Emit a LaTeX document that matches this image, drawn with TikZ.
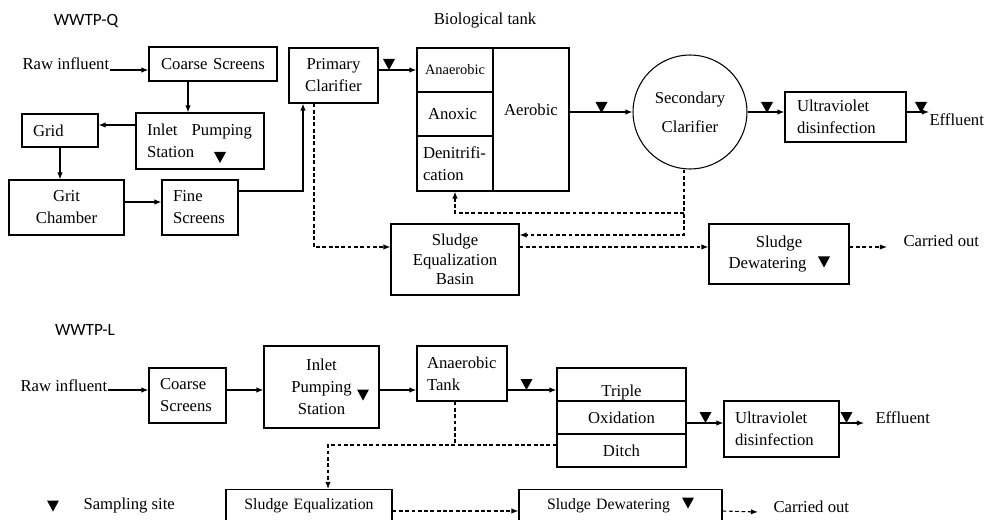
\documentclass[tikz,border=0pt]{standalone}
\usepackage{fontspec}
\setmainfont{Liberation Serif}
\newfontfamily\wwtpfont{Carlito}
\usepackage{tikz}
\usetikzlibrary{arrows.meta}

\newlength\px
\setlength\px{0.02cm}

\begin{document}
\begin{tikzpicture}[x=0.02cm, y=-0.02cm, line width=0.6pt,
    every node/.style={font=\fontsize{9.5}{12.5}\selectfont},
    box/.style={draw, inner ysep=0pt},
    plant/.style={font=\wwtpfont\fontsize{9.8}{12}\selectfont},
    arr/.style={-{Latex[length=4pt,width=3pt]}},
    dashline/.style={dash pattern=on 2.2pt off 1.4pt},
    dasharr/.style={dashline, arr},
    samp/.pic={\fill (-6,-5.5) -- (6,-5.5) -- (0,5.5) -- cycle;}]

    \useasboundingbox (0,0) rectangle (984,520);
    \clip (0,0) rectangle (984,520);

    % --- UPPER: WWTP-Q ---
    \node[plant] (lblq) at (86,21) {WWTP-Q};
    \node (lblbio) at (485,21) {Biological tank};

    \coordinate (rowq) at (0,70);
    \coordinate (rgrid) at (0,125);
    \coordinate (rgrit) at (0,202);
    \coordinate (rfs) at (0,191);
    \coordinate (ccs) at (188,0);
    \coordinate (cpc) at (303,0);

    \node[anchor=base west, inner sep=0pt] (rawq) at (22,70) {Raw influent};
    \node[box, inner xsep=6\px, text width=116\px, align=center, minimum height=34\px] (cs1) at (213,64) {Coarse Screens};
    \node[box, inner xsep=11\px, text width=106\px, align=left, minimum height=56\px] (ips1) at (200,141) {Inlet\hspace{8pt}Pumping\\Station};
    \node[box, inner xsep=11\px, text width=54\px, align=left, minimum height=33\px] (grid) at (60,130.5) {Grid};
    \node[box, inner xsep=6\px, text width=103\px, align=center, minimum height=55\px] (grit) at (66.5,207.5) {Grit\\Chamber};
    \node[box, inner xsep=11\px, text width=54\px, align=left, minimum height=55\px] (fs1) at (200,207.5) {Fine\\Screens};
    \node[box, inner xsep=6\px, text width=77\px, align=center, minimum height=55\px] (pc) at (333.5,75.5) {Primary\\Clarifier};

    % biological tank cells
    \node[box, inner xsep=3\px, text width=70\px, align=center, minimum height=44\px, font=\fontsize{8.2}{10}\selectfont] (anae) at (455,70) {Anaerobic};
    \node[box, inner xsep=11\px, text width=54\px, align=left, minimum height=44\px] (anox) at (455,114) {Anoxic};
    \node[box, inner xsep=6\px, text width=64\px, align=left, minimum height=55\px] (denit) at (455,163.5) {Denitrifi-\\cation};
    \node[box, inner sep=0pt, minimum width=76\px, minimum height=143\px, label={[yshift=9.5\px]center:Aerobic}] (aer) at (531,119.5) {};

    \node[draw, circle, minimum size=114\px, inner sep=0pt, align=center] (sc) at (690,112) {Secondary\\[4pt]Clarifier};
    \node[box, inner xsep=12\px, text width=97\px, align=left, minimum height=50\px] (uv1) at (845.5,117) {Ultraviolet\\disinfection};
    \node[anchor=base west, inner sep=0pt] (eff1) at (929,126) {Effluent};

    \node[box, inner xsep=6\px, text width=116\px, align=center, minimum height=71\px, font=\fontsize{9.5}{11}\selectfont] (se1) at (455,259.5) {Sludge\\Equalization\\Basin};
    \node[box, inner xsep=6\px, text width=128\px, align=center, minimum height=60\px] (sd1) at (779,254) {Sludge\\Dewatering\hspace{23\px}\mbox{}};
    \node[anchor=base west, inner xsep=16\px, inner ysep=0pt] (co1) at (887,247) {Carried out};

    % main line
    \draw[arr] (rawq.base east) -- (rawq.base east -| cs1.west);
    \draw[arr] (ccs |- cs1.south) -- (ccs |- ips1.north);
    \draw[arr] (rgrid -| ips1.west) -- (rgrid -| grid.east);
    \draw[arr] (grid.south) -- (grid.south |- grit.north);
    \draw[arr] (rgrit -| grit.east) -- (rgrit -| fs1.west);
    \draw[arr] (rfs -| fs1.east) -| (cpc |- pc.south);
    \draw[arr] (anae.west -| pc.east) -- (anae.west);
    \draw[arr] (sc.west -| aer.east) -- (sc.west);
    \draw[arr] (sc.east) -- (sc.east -| uv1.west);
    \draw[arr] (sc.east -| uv1.east) -- (sc.east -| eff1.west);

    % sludge lines
    \coordinate (cpcd) at (314,0);
    \coordinate (csc) at (684,0);
    \coordinate (rse) at (0,247);
    \coordinate (rsb) at (0,235);
    \coordinate (rden) at (0,213);
    \draw[dasharr] (cpcd |- pc.south) |- (rse -| se1.west);
    \draw[dasharr] (csc |- sc.south) |- (rsb -| se1.east);
    \draw[dasharr] (csc |- rden) -| (denit.south);
    \draw[dasharr] (rse -| se1.east) -- (rse -| sd1.west);
    \draw[dasharr] (co1.base west -| sd1.east) -- (co1.base west);

    % sampling sites
    \pic at (389,64.5) {samp};
    \pic at (601.5,107.5) {samp};
    \pic at (767,107.5) {samp};
    \pic at (921,107.5) {samp};
    \pic at (220,157.5) {samp};
    \pic at (824,262) {samp};

    % --- LOWER: WWTP-L ---
    \node[plant] (lbll) at (85,330) {WWTP-L};

    \coordinate (rowl) at (0,390);
    \coordinate (rowuv) at (0,423);
    \coordinate (rsl) at (0,511);
    \coordinate (jl) at (455,445);
    \coordinate (cse2) at (328,0);

    \node[anchor=base west, inner sep=0pt] (rawl) at (20,391) {Raw influent};
    \node[box, inner xsep=11\px, text width=55\px, align=left, minimum height=55\px] (cs2) at (187.5,395.5) {Coarse\\Screens};
    \node[box, inner xsep=6\px, text width=103\px, align=center, minimum height=82\px] (ips2) at (321.5,387) {Inlet\\Pumping\\Station};
    \node[box, inner xsep=10\px, text width=70\px, align=left, minimum height=55\px] (at2) at (462,373.5) {Anaerobic\\Tank};

    % oxidation ditch cells
    \node[box, minimum width=129\px, minimum height=33\px, label={[yshift=-7.5\px]center:Triple}] (tri) at (621.5,384.5) {};
    \node[box, minimum width=129\px, minimum height=33\px] (oxi) at (621.5,417.5) {Oxidation};
    \node[box, minimum width=129\px, minimum height=33\px] (dit) at (621.5,450.5) {Ditch};

    \node[box, inner xsep=11\px, text width=93\px, align=left, minimum height=56\px] (uv2) at (781.5,429) {Ultraviolet\\disinfection};
    \node[anchor=base west, inner xsep=11\px, inner ysep=0pt] (eff2) at (864,423) {Effluent};

    \node[box, anchor=north, inner xsep=6\px, text width=154\px, align=center, inner ysep=5pt, text depth=30pt, font=\fontsize{9}{12}\selectfont] (se2) at (309,489) {Sludge Equalization};
    \node[box, anchor=north, inner xsep=6\px, text width=191\px, align=center, inner ysep=5pt, text depth=30pt, font=\fontsize{9}{12}\selectfont] (sd2) at (620.5,489) {Sludge Dewatering\hspace{24\px}\mbox{}};
    \node[anchor=base west, inner xsep=15\px, inner ysep=0pt] (co2) at (758,512) {Carried out};

    % main line
    \draw[arr] (rowl -| rawl.east) -- (rowl -| cs2.west);
    \draw[arr] (rowl -| cs2.east) -- (rowl -| ips2.west);
    \draw[arr] (rowl -| ips2.east) -- (rowl -| at2.west);
    \draw[arr] (rowl -| at2.east) -- (rowl -| tri.west);
    \draw[arr] (rowuv -| oxi.east) -- (rowuv -| uv2.west);
    \draw[arr] (rowuv -| uv2.east) -- (eff2.base west);

    % sludge lines
    \draw[dashline] (jl |- at2.south) -- (jl);
    \draw[dasharr] (jl -| dit.west) -| (cse2 |- se2.north);
    \draw[dasharr] (rsl -| se2.east) -- (rsl -| sd2.west);
    \draw[dasharr] (rsl -| sd2.east) -- (co2.base west);

    % sampling sites
    \pic at (526.5,384.5) {samp};
    \pic at (705.5,417.5) {samp};
    \pic at (846.5,417.5) {samp};
    \pic at (363,395) {samp};
    \pic at (688,503) {samp};

    % legend
    \pic at (53,506) {samp};
    \node[anchor=west, inner sep=0pt] (leg) at (83,506) {Sampling site};

\end{tikzpicture}
\end{document}
